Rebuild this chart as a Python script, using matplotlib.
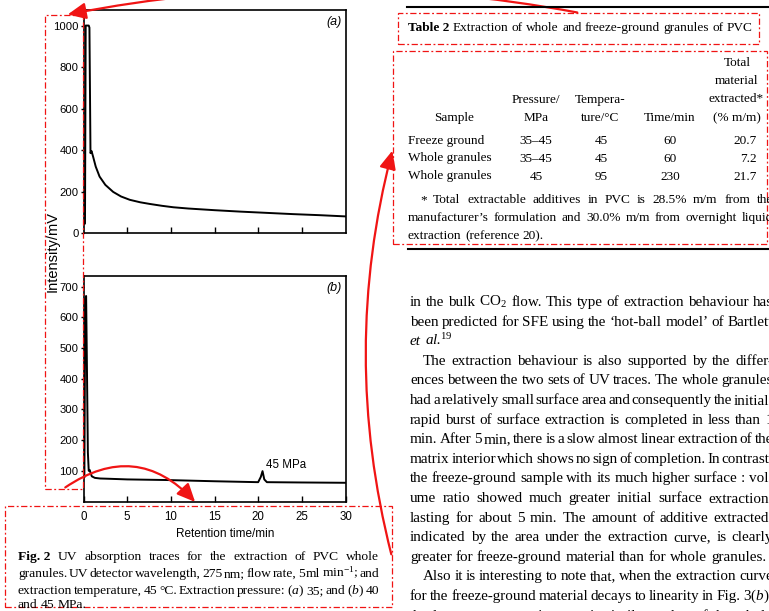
import matplotlib
matplotlib.use("Agg")
import matplotlib.pyplot as plt
from matplotlib.patches import Rectangle, FancyArrowPatch
from matplotlib.lines import Line2D

plt.rcParams['mathtext.fontset'] = 'custom'
plt.rcParams['mathtext.rm'] = 'Liberation Serif'
plt.rcParams['mathtext.it'] = 'Liberation Serif:italic'
plt.rcParams['mathtext.bf'] = 'Liberation Serif:bold'

SANS = ['Liberation Sans', 'DejaVu Sans']
SERIF = ['Liberation Serif', 'DejaVu Serif']
RED = '#f01414'

# trace (a): 35 MPa
time_a = [0.12, 0.17, 0.25, 0.6, 0.68, 0.8, 0.92, 1.1, 1.4, 1.84, 2.5, 3.4, 4.3, 5.3,
          6.5, 7.6, 9.0, 10.3, 12.0, 15.0, 18.0, 21.0, 24.0, 27.0, 30.0]
signal_a = [45, 45, 1000, 1000, 990, 385, 395, 368, 320, 272, 232, 198, 176, 160,
            148, 140, 131, 124, 118, 110, 103, 97, 91, 86, 80]
# trace (b): 40 and 45 MPa
time_b = [0.1, 0.2, 0.3, 0.4, 0.5, 0.6, 0.7, 0.95, 1.3, 1.9, 3.0, 5.0, 9.5, 15.0,
          20.0, 20.3, 20.5, 20.7, 21.0, 25.0, 30.0]
signal_b = [80, 660, 670, 420, 160, 100, 103, 82, 77, 75, 74, 72, 70, 66,
            63, 80, 99, 72, 63, 62, 61]
xticks_b = [0, 5, 10, 15, 20, 25, 30]
yticks_a = [0, 200, 400, 600, 800, 1000]
yticks_b = [100, 200, 300, 400, 500, 600, 700]

caption = [
    [("Fig. 2", {'weight': 'bold'})] + "UV absorption traces for the extraction of PVC whole".split(),
    "granules. UV detector wavelength, 275 nm; flow rate, 5 ml min$^{-1}$; and".split(),
    "extraction temperature, 45 °C. Extraction pressure: ($a$) 35; and ($b$) 40".split(),
    "and 45 MPa.".split(),
]

table_title = "Extraction of whole and freeze-ground granules of PVC"
samples = ["Freeze ground", "Whole granules", "Whole granules"]
pressures = ["35–45", "35–45", "45"]
temperatures = ["45", "45", "95"]
times = ["60", "60", "230"]
extracted = ["20.7", "7.2", "21.7"]
footnote = [
    "* Total extractable additives in PVC is 28.5% m/m from the",
    "manufacturer’s formulation and 30.0% m/m from overnight liquid",
    "extraction (reference 20).",
]

body = [
    ("in the bulk CO$_2$ flow. This type of extraction behaviour has", 0, True),
    ("been predicted for SFE using the ‘hot-ball model’ of Bartlett", 0, True),
    (None, 0, False),
    ("The extraction behaviour is also supported by the differ-", 1, True),
    ("ences between the two sets of UV traces. The whole granules", 0, True),
    ("had a relatively small surface area and consequently the initial,", 0, True),
    ("rapid burst of surface extraction is completed in less than 1", 0, True),
    ("min. After 5 min, there is a slow almost linear extraction of the", 0, True),
    ("matrix interior which shows no sign of completion. In contrast,", 0, True),
    ("the freeze-ground sample with its much higher surface : vol-", 0, True),
    ("ume ratio showed much greater initial surface extraction,", 0, True),
    ("lasting for about 5 min. The amount of additive extracted,", 0, True),
    ("indicated by the area under the extraction curve, is clearly", 0, True),
    ("greater for freeze-ground material than for whole granules.", 0, False),
    ("Also it is interesting to note that, when the extraction curve", 1, True),
    ("for the freeze-ground material decays to linearity in Fig. 3($b$),", 0, True),
    ("the long-term extraction rate is similar to that of the whole", 0, True),
]

W, H = 769, 611
fig = plt.figure(figsize=(W / 100, H / 100), dpi=100)
renderer = fig.canvas.get_renderer()


def fx(x):
    return x / W


def fy(y):
    return 1 - y / H


def put_words(x0, y, words, size, x1=None, family=SERIF):
    objs = []
    for w in words:
        s, extra = (w if isinstance(w, tuple) else (w, {}))
        props = dict(fontsize=size, family=family, va='baseline', ha='left')
        props.update(extra)
        objs.append(fig.text(fx(x0), fy(y), s, **props))
    widths = [o.get_window_extent(renderer).width for o in objs]
    gap = size * 100 / 72 * 0.25
    if x1 is not None and len(objs) > 1:
        gap = (x1 - x0 - sum(widths)) / (len(objs) - 1)
    x = x0
    for o, w in zip(objs, widths):
        o.set_x(fx(x))
        x += w + gap


def panel(left, right, top, bottom):
    return fig.add_axes([fx(left), fy(bottom), (right - left) / W, (bottom - top) / H])


# ---- chart panels ----
ax_a = panel(83.5, 345.5, 10, 233)
ax_b = panel(83.5, 345.5, 276, 501.5)

ax_a.plot(time_a, signal_a, color='black', lw=1.4)
ax_a.set_xlim(0, 30)
ax_a.set_ylim(0, 1075)
ax_a.set_xticks([5, 10, 15, 20, 25])
ax_a.set_xticklabels([])
ax_a.set_yticks(yticks_a)

ax_b.plot(time_b, signal_b, color='black', lw=1.4)
ax_b.set_xlim(0, 30)
ax_b.set_ylim(0, 735)
ax_b.set_xticks(xticks_b)
ax_b.set_yticks(yticks_b)
ax_b.text(20.9, 98, "45 MPa", family=SANS, fontsize=8.3, va='bottom', ha='left')

for ax, lab in [(ax_a, "(a)"), (ax_b, "(b)")]:
    for s in ax.spines.values():
        s.set_linewidth(1.2)
    ax.tick_params(axis='x', direction='in', length=4, width=1, pad=7, labelsize=8.3)
    ax.tick_params(axis='y', direction='out', length=2.5, width=1, pad=1, labelsize=8.1)
    for t in ax.get_xticklabels() + ax.get_yticklabels():
        t.set_family(SANS)
    ax.text(0.985, 0.975, lab, transform=ax.transAxes, ha='right', va='top',
            family=SANS, style='italic', fontsize=9)

fig.text(fx(53), fy(252), "Intensity/mV", rotation=90, ha='center', va='center',
         family=SANS, fontsize=10.5)
fig.text(fx(225), fy(534), "Retention time/min", ha='center', va='center',
         family=SANS, fontsize=8.5)

# ---- caption ----
cap_y = [560, 577, 594, 608]
for i, words in enumerate(caption):
    put_words(18, cap_y[i], words, 9.7, x1=379 if i < 3 else None)

# ---- table ----
fig.add_artist(Line2D([fx(407), fx(769)], [fy(6.5), fy(6.5)], color='black', lw=1.5))
fig.add_artist(Line2D([fx(408), fx(769)], [fy(249), fy(249)], color='black', lw=1.5))
put_words(408, 31, [("Table 2", {'weight': 'bold'})] + table_title.split(), 9.6)

TS = 9.5
hdr = dict(family=SERIF, fontsize=TS, va='baseline')
fig.text(fx(454), fy(121), "Sample", ha='center', **hdr)
fig.text(fx(536), fy(103), "Pressure/", ha='center', **hdr)
fig.text(fx(536), fy(121), "MPa", ha='center', **hdr)
fig.text(fx(600), fy(103), "Tempera-", ha='center', **hdr)
fig.text(fx(600), fy(121), "ture/°C", ha='center', **hdr)
fig.text(fx(670), fy(121), "Time/min", ha='center', **hdr)
fig.text(fx(737), fy(66), "Total", ha='center', **hdr)
fig.text(fx(737), fy(84), "material", ha='center', **hdr)
fig.text(fx(764), fy(102), "extracted*", ha='right', **hdr)
fig.text(fx(737), fy(121), "(% m/m)", ha='center', **hdr)
row_y = [144, 161.5, 179.5]
for i in range(3):
    fig.text(fx(408), fy(row_y[i]), samples[i], ha='left', **hdr)
    fig.text(fx(536), fy(row_y[i]), pressures[i], ha='center', **hdr)
    fig.text(fx(601), fy(row_y[i]), temperatures[i], ha='center', **hdr)
    fig.text(fx(670), fy(row_y[i]), times[i], ha='center', **hdr)
    fig.text(fx(757), fy(row_y[i]), extracted[i], ha='right', **hdr)
put_words(420, 203, footnote[0].split(), 9.6, x1=773)
put_words(408, 221, footnote[1].split(), 9.6, x1=773)
put_words(408, 239, footnote[2].split(), 9.6)

# ---- body text ----
BS = 10.9
for i, (line, indent, just) in enumerate(body):
    y = 306 + i * 19.6
    if line is None:
        put_words(410, y, [("et", {'style': 'italic'}),
                           ("al.$^{19}$", {'style': 'italic'})], BS)
        continue
    x0 = 423 if indent else 410
    put_words(x0, y, line.split(), BS, x1=773 if just else None)

# ---- red annotations ----
def box(x0, y0, x1, y1):
    fig.add_artist(Rectangle((fx(x0), fy(y1)), (x1 - x0) / W, (y1 - y0) / H,
                             transform=fig.transFigure, fill=False, ec=RED, lw=0.9,
                             ls=(0, (5, 2, 1.5, 2))))


box(44.5, 15, 83, 489)
box(5, 505.5, 392, 607)
box(398, 13, 759, 44)
box(393, 51, 767, 244)


def arrow(p0, p1, rad):
    fig.add_artist(FancyArrowPatch((fx(p0[0]), fy(p0[1])), (fx(p1[0]), fy(p1[1])),
                                   transform=fig.transFigure,
                                   connectionstyle=f"arc3,rad={rad}",
                                   arrowstyle="-|>,head_length=0.55,head_width=0.25",
                                   mutation_scale=20, color=RED, lw=1.6))


arrow((580, 13), (65, 15), 0.097)
arrow((392, 557), (393, 148), -0.13)
arrow((63, 489), (197, 504), -0.44)

fig.savefig("out.png", dpi=100)
